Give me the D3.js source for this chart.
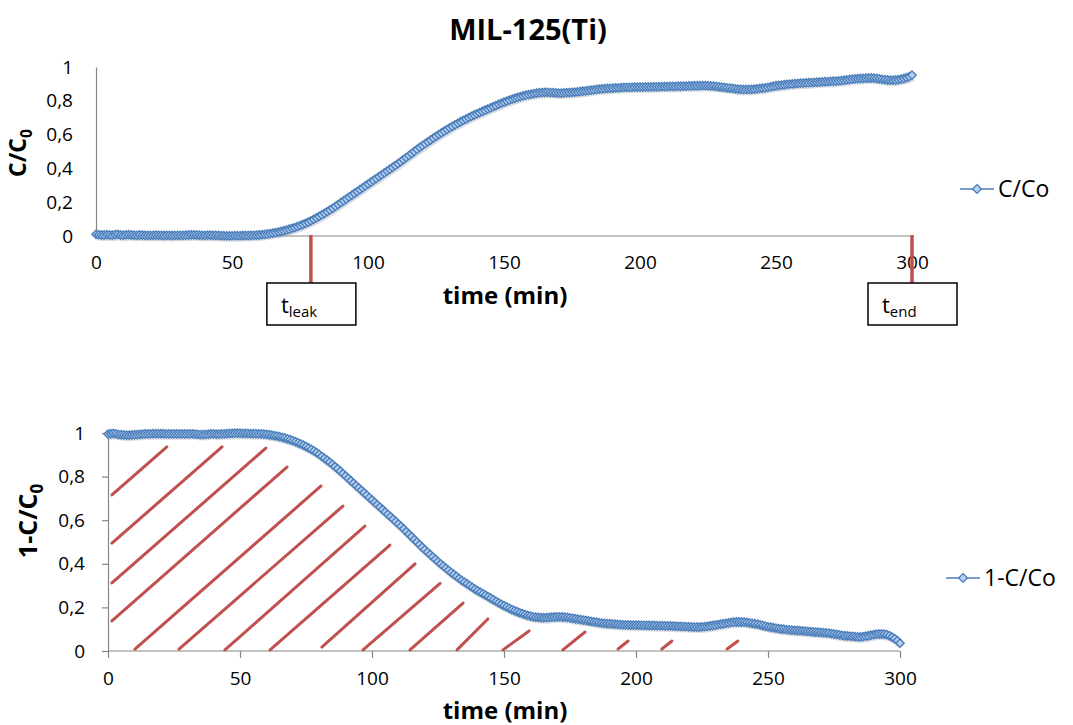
<!DOCTYPE html>
<html><head><meta charset="utf-8">
<script src="https://cdn.jsdelivr.net/npm/d3@7"></script>
<style>body{margin:0;background:#fff} text{font-family:"Open Sans",sans-serif;fill:#000}</style>
</head><body><svg id="c" width="1073" height="725"></svg>
<script>
// ---------- DATA ----------
const chartTitle = "MIL-125(Ti)";
const timeStep = 1; // minutes between samples
const xTicks = [0, 50, 100, 150, 200, 250, 300];
const yTicks = [0, 0.2, 0.4, 0.6, 0.8, 1];
const yTickLabels = ["0", "0,2", "0,4", "0,6", "0,8", "1"];
const seriesTopName = "C/Co";
const seriesBottomName = "1-C/Co";
// C/C0 (t = 0..300 min)
const cOverC0 = [
.010,.008,.006,.006,.008,.006,.005,.008,.009,.006,
.005,.007,.008,.006,.005,.004,.006,.005,.004,.004,
.004,.004,.005,.004,.004,.003,.004,.004,.003,.004,
.004,.004,.004,.005,.006,.007,.007,.006,.005,.004,
.004,.005,.005,.004,.004,.003,.002,.002,.001,.001,
.001,.002,.002,.002,.003,.003,.003,.004,.004,.005,
.006,.008,.010,.012,.014,.017,.020,.023,.027,.031,
.035,.040,.045,.050,.056,.062,.068,.075,.082,.090,
.098,.107,.116,.125,.134,.144,.154,.164,.175,.186,
.197,.208,.219,.230,.241,.252,.263,.274,.285,.296,
.307,.318,.329,.340,.351,.362,.373,.384,.395,.406,
.417,.428,.440,.452,.464,.476,.488,.500,.512,.524,
.535,.546,.557,.568,.579,.590,.600,.610,.620,.630,
.640,.649,.658,.667,.676,.684,.692,.700,.708,.716,
.723,.730,.737,.744,.751,.758,.765,.772,.779,.786,
.792,.798,.804,.810,.815,.820,.825,.829,.833,.837,
.840,.843,.846,.848,.849,.850,.850,.849,.848,.847,
.846,.846,.847,.848,.849,.850,.851,.853,.855,.857,
.859,.861,.863,.865,.867,.869,.870,.872,.873,.874,
.875,.876,.877,.878,.879,.880,.880,.880,.881,.881,
.881,.881,.882,.882,.882,.883,.883,.883,.884,.884,
.884,.885,.885,.885,.886,.886,.887,.887,.888,.888,
.889,.889,.890,.890,.890,.889,.888,.887,.885,.883,
.881,.879,.877,.875,.873,.871,.869,.868,.867,.867,
.867,.868,.869,.871,.873,.875,.877,.880,.883,.886,
.889,.891,.893,.895,.897,.899,.900,.902,.903,.904,
.905,.906,.907,.908,.909,.910,.911,.912,.913,.914,
.915,.916,.917,.918,.920,.922,.924,.926,.928,.930,
.931,.932,.933,.934,.935,.935,.934,.932,.930,.927,
.925,.923,.922,.922,.923,.925,.928,.932,.937,.943,
.952];
// 1-C/C0 (t = 0..300 min)
const oneMinusC = [
.995,.997,.998,.996,.993,.992,.991,.990,.990,.991,
.992,.993,.994,.995,.996,.996,.996,.997,.997,.997,
.997,.997,.996,.996,.996,.996,.996,.996,.996,.996,
.996,.996,.996,.995,.994,.993,.993,.994,.995,.996,
.996,.995,.995,.996,.996,.997,.998,.998,.999,.999,
.999,.998,.998,.998,.997,.997,.997,.996,.996,.995,
.994,.992,.990,.988,.986,.983,.980,.977,.973,.969,
.965,.960,.955,.950,.944,.938,.932,.925,.918,.910,
.902,.893,.884,.875,.866,.856,.846,.836,.825,.814,
.803,.792,.781,.770,.759,.748,.737,.726,.715,.704,
.693,.682,.671,.660,.649,.638,.627,.616,.605,.594,
.583,.572,.560,.548,.536,.524,.512,.500,.488,.476,
.465,.454,.443,.432,.421,.410,.400,.390,.380,.370,
.360,.351,.342,.333,.324,.316,.308,.300,.292,.284,
.277,.270,.263,.256,.249,.242,.235,.228,.221,.214,
.208,.202,.196,.190,.185,.180,.175,.171,.167,.163,
.160,.157,.155,.154,.153,.153,.153,.154,.155,.156,
.157,.157,.156,.155,.154,.152,.150,.148,.146,.144,
.142,.140,.138,.136,.134,.132,.130,.128,.127,.126,
.125,.124,.123,.122,.121,.120,.120,.120,.119,.119,
.119,.119,.118,.118,.118,.117,.117,.117,.116,.116,
.116,.115,.115,.115,.114,.114,.113,.113,.112,.112,
.111,.111,.110,.110,.110,.111,.112,.113,.115,.117,
.119,.121,.123,.125,.127,.129,.131,.132,.133,.133,
.133,.132,.131,.129,.127,.125,.123,.120,.117,.114,
.111,.109,.107,.105,.103,.101,.100,.098,.097,.096,
.095,.094,.093,.092,.091,.090,.089,.088,.087,.086,
.085,.084,.083,.082,.080,.078,.076,.074,.072,.070,
.069,.068,.067,.066,.065,.065,.066,.068,.070,.073,
.075,.077,.078,.078,.077,.075,.070,.064,.057,.048,
.036];
// annotation markers on the upper chart (time, label subscript)
const markers = [{t: 79, sub: "leak"}, {t: 300, sub: "end"}];
// hatch strokes in the lower chart: [t1, v1, t2, v2]
const hatch = [
[1.5,0.716,22.3,0.936],[1.5,0.495,43.2,0.936],[1.5,0.312,59.8,0.931],[1.5,0.138,67.8,0.844],
[10.2,0.009,80.7,0.757],[26.9,0.009,89,0.665],[44.3,0.005,97.3,0.573],[61.4,0.005,106.8,0.486],
[81,0.018,116.3,0.40],[96.6,0.005,125.8,0.31],[114.4,0.005,134.5,0.22],[132.2,0.005,143.9,0.147],
[149.6,0.005,159.5,0.092],[172.3,0.005,180.7,0.087],[193.2,0.009,197,0.046],[209.8,0.009,213.6,0.046],
[234.5,0.009,238.6,0.046]];

// ---------- DRAW ----------
const svg = d3.select("#c");
const AX = "#868686", LINE = "#4A7EBB", FILL = "#B9D1F0", RED = "#C0504D";
const fmtY = v => yTickLabels[yTicks.indexOf(v)];
const diamond = d3.symbol().type(d3.symbolDiamond2 || d3.symbolDiamond).size(44);

svg.append("text").attr("x", 528).attr("y", 40).attr("text-anchor", "middle")
  .style("font-weight", "bold").style("font-size", "29px").text(chartTitle);

function panel(o) {
  const x = d3.scaleLinear().domain([0, 300]).range([o.x0, o.x1]);
  const y = d3.scaleLinear().domain([0, 1]).range([o.y0, o.y1]);
  const g = svg.append("g");
  const xa = g.append("g").attr("transform", `translate(0,${o.y0})`)
    .call(d3.axisBottom(x).tickValues(xTicks).tickSize(o.xTick).tickPadding(o.xPad).tickSizeOuter(0));
  const ya = g.append("g").attr("transform", `translate(${o.x0},0)`)
    .call(d3.axisLeft(y).tickValues(yTicks).tickFormat(fmtY).tickSize(o.yTick).tickPadding(o.yPad).tickSizeOuter(0));
  [xa, ya].forEach(a => {
    a.select(".domain").attr("stroke", AX).attr("stroke-width", 1.2);
    a.selectAll(".tick line").attr("stroke", AX).attr("stroke-width", 1.2);
    a.selectAll(".tick text").style("font-size", "19px").style("font-family", "'Open Sans',sans-serif").attr("fill", "#000");
  });
  xa.select(".domain").attr("d", `M${o.x0},0H${o.xEnd}`);
  return {x, y, g};
}

function series(p, vals) {
  const pts = vals.map((v, i) => [i * timeStep, v]);
  const line = d3.line().x(d => p.x(d[0])).y(d => p.y(d[1])).curve(d3.curveMonotoneX);
  p.g.append("path").attr("d", line(pts)).attr("fill", "none").attr("stroke", "#9aa3ad")
    .attr("stroke-width", 7).attr("opacity", 0.35).attr("transform", "translate(1,2.5)");
  p.g.append("path").attr("d", line(pts)).attr("fill", "none").attr("stroke", LINE).attr("stroke-width", 2.2);
  p.g.append("g").selectAll("path").data(pts).join("path")
    .attr("transform", d => `translate(${p.x(d[0])},${p.y(d[1])})`)
    .attr("d", diamond).attr("fill", FILL).attr("stroke", LINE).attr("stroke-width", 1.4);
}

function legend(x, y, name) {
  svg.append("line").attr("x1", x).attr("x2", x + 34).attr("y1", y).attr("y2", y).attr("stroke", LINE).attr("stroke-width", 1.3);
  svg.append("path").attr("transform", `translate(${x + 17},${y})`).attr("d", d3.symbol().type(d3.symbolDiamond2 || d3.symbolDiamond).size(50))
    .attr("fill", FILL).attr("stroke", LINE).attr("stroke-width", 1.3);
  svg.append("text").attr("x", x + 38).attr("y", y + 8).style("font-size", "23px").text(name);
}

function yTitle(cx, cy, main, size) {
  const t = svg.append("text").attr("transform", `translate(${cx},${cy}) rotate(-90)`)
    .attr("text-anchor", "middle").style("font-weight", "bold").style("font-size", size + "px");
  t.append("tspan").text(main);
  t.append("tspan").attr("dy", 6).style("font-size", (size * 0.68) + "px").text("0");
}

// upper panel
const P1 = panel({x0: 96, x1: 912, xEnd: 914, y0: 236, y1: 67, xTick: 0, xPad: 20, yTick: 0, yPad: 23});
series(P1, cOverC0);
legend(960, 189, seriesTopName);
yTitle(26, 153, "C/C", 23);
svg.append("text").attr("x", 505).attr("y", 304).attr("text-anchor", "middle")
  .style("font-weight", "bold").style("font-size", "24px").text("time (min)");
markers.forEach(m => {
  const px = P1.x(m.t);
  svg.append("line").attr("x1", px).attr("x2", px).attr("y1", 235).attr("y2", 283)
    .attr("stroke", RED).attr("stroke-width", 3.5);
  const bx = px - 44;
  svg.append("rect").attr("x", bx).attr("y", 283).attr("width", 89).attr("height", 42)
    .attr("fill", "#fff").attr("stroke", "#000").attr("stroke-width", 1.5);
  const t = svg.append("text").attr("x", bx + 14).attr("y", 313).style("font-size", "22px");
  t.append("tspan").text("t");
  t.append("tspan").attr("dy", 4).style("font-size", "15px").text(m.sub);
});

// lower panel
const P2 = panel({x0: 108, x1: 900, xEnd: 900, y0: 651, y1: 433, xTick: 7, xPad: 14, yTick: 6, yPad: 17});
P2.g.append("g").selectAll("line").data(hatch).join("line")
  .attr("x1", d => P2.x(d[0])).attr("y1", d => P2.y(d[1]))
  .attr("x2", d => P2.x(d[2])).attr("y2", d => P2.y(d[3]))
  .attr("stroke", RED).attr("stroke-width", 3).attr("stroke-linecap", "round");
series(P2, oneMinusC);
legend(946, 578, seriesBottomName);
yTitle(37, 521, "1-C/C", 25);
svg.append("text").attr("x", 505).attr("y", 719).attr("text-anchor", "middle")
  .style("font-weight", "bold").style("font-size", "24px").text("time (min)");
</script></body></html>
